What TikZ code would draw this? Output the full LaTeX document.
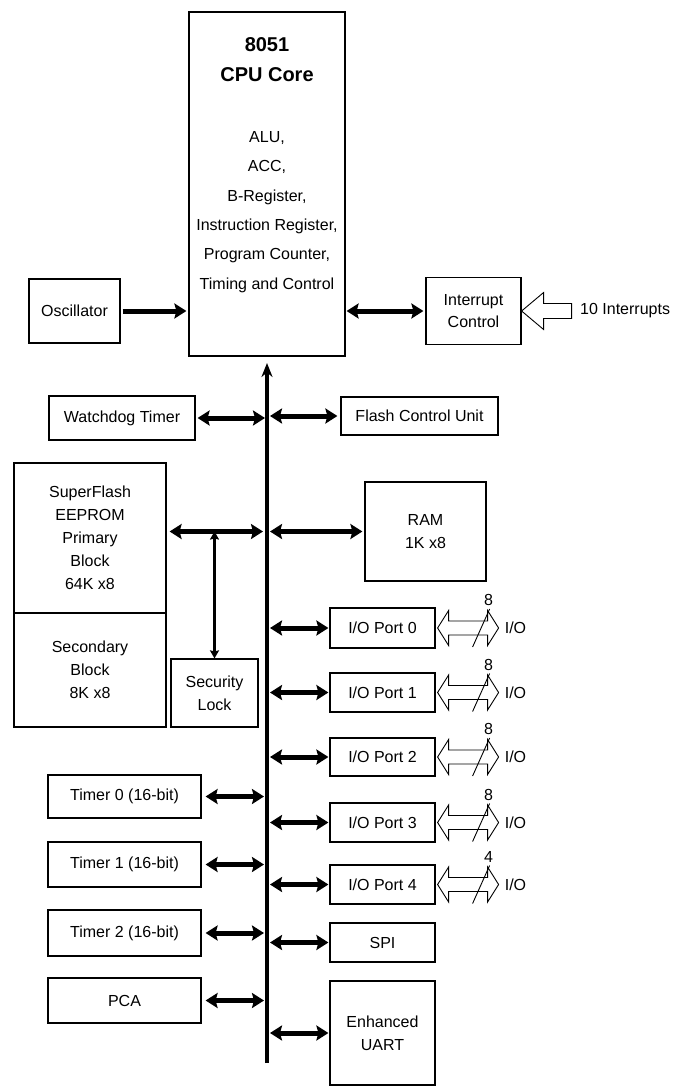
\documentclass[tikz,border=0pt]{standalone}
\usepackage{fontspec}
\setmainfont{Liberation Sans}
\usetikzlibrary{arrows.meta,calc}
\newcommand\ioarrow[3]{%
  \draw[hollow] ($(#1.east)+(2,0)$) -- ++(11,-17.5) -- ++(0,10.5) -- ++(39,0) -- ++(0,-10.5) -- ++(11,17.5) -- ++(-11,17.5) -- ++(0,-10.5) -- ++(-39,0) -- ++(0,10.5) -- cycle;
  \draw[line width=0.9pt] ($(#1.east)+(37,19)$) -- ++(17,-38);
  \node[txt] (bits#3) at ($(#1.east)+(53,-28)$) {#2};
  \node[txt,anchor=west] (io#3) at ($(#1.east)+(69,0)$) {I/O};
}
\begin{document}
\begin{tikzpicture}[x=1pt,y=-1pt,
  box/.style={draw,line width=1.2pt,inner sep=0pt,align=center,font=\fontsize{16}{23}\selectfont},
  txt/.style={inner sep=0pt,align=center,font=\fontsize{16}{23}\selectfont},
  dbl/.style={line width=5pt,{Stealth[length=12pt,width=15pt,inset=2pt]}-{Stealth[length=12pt,width=15pt,inset=2pt]}},
  sgl/.style={line width=5pt,-{Stealth[length=12pt,width=15pt,inset=2pt]}},
  secarrow/.style={line width=3pt,{Stealth[length=8pt,width=9pt,inset=1pt]}-{Stealth[length=8pt,width=9pt,inset=1pt]}},
  hollow/.style={draw,line width=0.9pt,fill=white,line join=miter},
]
\useasboundingbox (0,0) rectangle (678,1087);
\fill[white] (0,0) rectangle (678,1087);

% CPU
\node[box,minimum width=156pt,minimum height=344pt] (cpu) at (267,184) {};
\node[txt,font=\bfseries\fontsize{20}{30}\selectfont] (cputitle) at (267,60) {8051\\CPU Core};
\node[txt,font=\fontsize{16}{29.4}\selectfont] (cpulist) at (267,212) {ALU,\\ACC,\\B-Register,\\Instruction Register,\\Program Counter,\\Timing and Control};

\node[box,minimum width=91pt,minimum height=64pt] (osc) at (74.5,311) {Oscillator};
\node[box,minimum width=95pt,minimum height=67pt,font=\fontsize{16}{22}\selectfont] (intc) at (473.5,311) {Interrupt\\Control};
\node[txt,anchor=west] (irq) at (580,311) {10 Interrupts};

% bus
\coordinate (btop) at (267,363);
\coordinate (bbot) at (267,1063);
\draw[line width=4pt,-{Stealth[length=14pt,width=11pt]}] (bbot) -- (btop);

% left / right blocks
\node[box,minimum width=146pt,minimum height=44pt] (wdt) at (122,418) {Watchdog Timer};
\node[box,minimum width=157pt,minimum height=38pt] (fcu) at (419.5,416) {Flash Control Unit};
\node[box,minimum width=152pt,minimum height=150pt] (prim) at (90,538) {SuperFlash\\EEPROM\\Primary\\Block\\64K x8};
\node[box,minimum width=152pt,minimum height=114pt] (sec) at (90,670) {Secondary\\Block\\8K x8};
\node[box,minimum width=121pt,minimum height=99pt] (ram) at (425.5,531.5) {RAM\\1K x8};
\node[box,minimum width=87pt,minimum height=68pt] (seclock) at (214.5,693) {Security\\Lock};

\node[box,minimum width=105pt,minimum height=40pt] (p0) at (382.5,628) {I/O Port 0};
\node[box,minimum width=105pt,minimum height=39pt] (p1) at (382.5,692.5) {I/O Port 1};
\node[box,minimum width=105pt,minimum height=38pt] (p2) at (382.5,757) {I/O Port 2};
\node[box,minimum width=105pt,minimum height=39pt] (p3) at (382.5,822.5) {I/O Port 3};
\node[box,minimum width=105pt,minimum height=39pt] (p4) at (382.5,884.5) {I/O Port 4};
\node[box,minimum width=105pt,minimum height=39pt] (spi) at (382.5,942.5) {SPI};
\node[box,minimum width=105pt,minimum height=104pt] (uart) at (382.5,1033) {Enhanced\\UART};

\node[box,minimum width=153pt,minimum height=43pt] (t0) at (124.5,796.5) {Timer 0 (16-bit)};
\node[box,minimum width=153pt,minimum height=45pt] (t1) at (124.5,864.5) {Timer 1 (16-bit)};
\node[box,minimum width=153pt,minimum height=46pt] (t2) at (124.5,933) {Timer 2 (16-bit)};
\node[box,minimum width=153pt,minimum height=45pt] (pca) at (124.5,1000.5) {PCA};

% connectors
\draw[sgl,shorten <=2pt,shorten >=2pt] (osc.east) -- (osc.east -| cpu.west);
\draw[dbl,shorten <=1pt,shorten >=2pt] (cpu.east |- intc.west) -- (intc.west);
\draw[hollow] (intc.east) -- ++(22,-18.5) -- ++(0,11) -- ++(28,0) -- ++(0,15) -- ++(-28,0) -- ++(0,11) -- cycle;

\draw[dbl,shorten <=2pt,shorten >=2pt] (wdt.east) -- (wdt.east -| btop);
\draw[dbl,shorten <=3pt,shorten >=3pt] (fcu.west -| btop) -- (fcu.west);
\draw[dbl,shorten <=3pt,shorten >=4pt] (prim.east |- ram.west) -- (ram.west -| btop);
\draw[dbl,shorten <=3pt,shorten >=2pt] (ram.west -| btop) -- (ram.west);
\draw[secarrow] (seclock.north |- ram.west) -- (seclock.north);

\foreach \n in {p0,p1,p2,p3,p4,spi,uart}
  \draw[dbl,shorten <=3pt,shorten >=1pt] (\n.west -| btop) -- (\n.west);
\foreach \n in {t0,t1,t2,pca}
  \draw[dbl,shorten <=4pt,shorten >=3pt] (\n.east) -- (\n.east -| btop);

\ioarrow{p0}{8}{a}
\ioarrow{p1}{8}{b}
\ioarrow{p2}{8}{c}
\ioarrow{p3}{8}{d}
\ioarrow{p4}{4}{e}
\end{tikzpicture}
\end{document}
